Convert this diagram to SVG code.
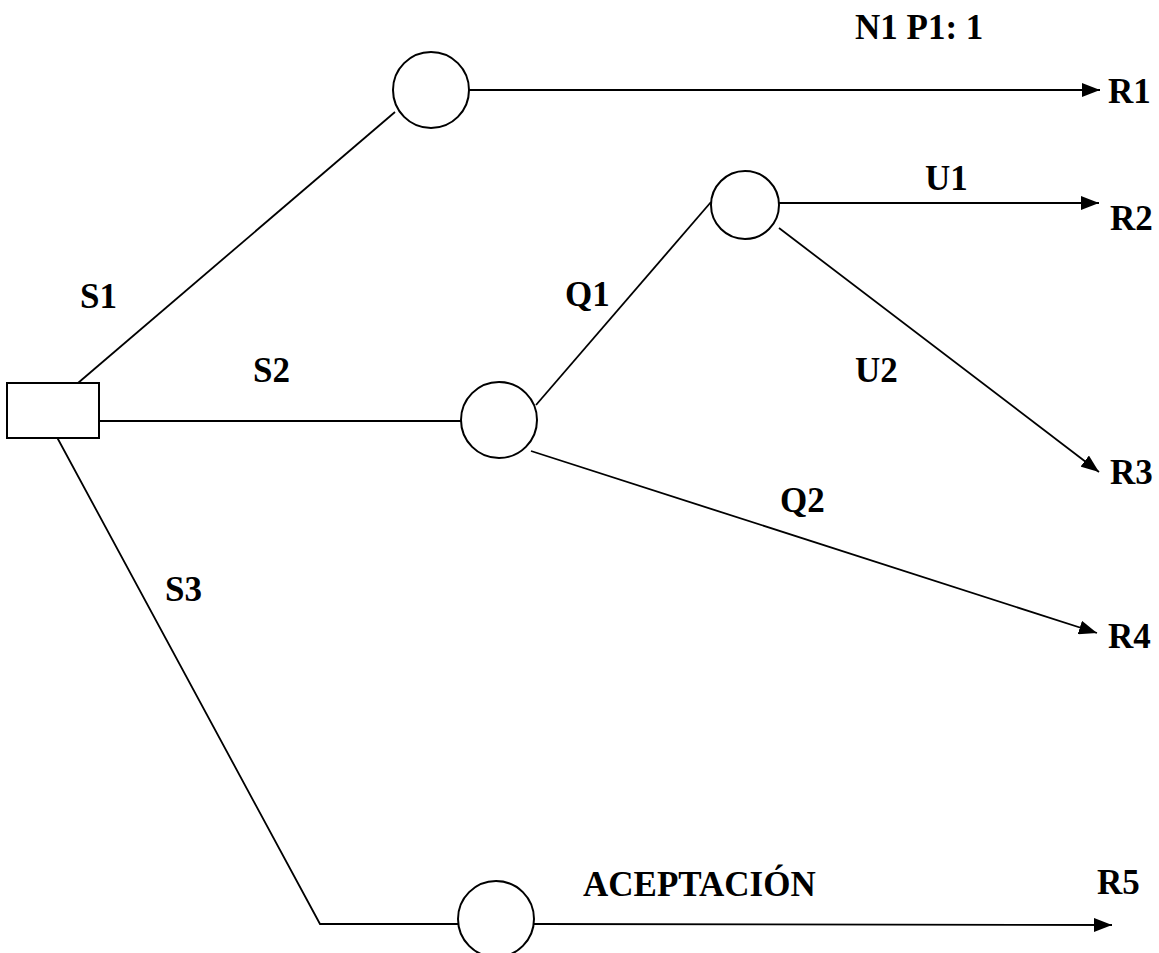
<svg xmlns="http://www.w3.org/2000/svg" width="1159" height="953" viewBox="0 0 1159 953">
  <style>
    .edge { stroke: #000; stroke-width: 1.8; fill: none; }
    .node { stroke: #000; stroke-width: 2; fill: #fff; }
    .lbl { font-family: "Liberation Serif", "Times New Roman", serif; font-weight: bold; font-size: 35px; fill: #000; }
  </style>
  <defs>
    <marker id="arrow" viewBox="0 0 18 14" refX="18" refY="7" markerWidth="18" markerHeight="14" markerUnits="userSpaceOnUse" orient="auto">
      <path d="M0,0 L18,7 L0,14 Z" fill="#000"/>
    </marker>
  </defs>
  <rect width="1159" height="953" fill="#fff"/>

  <g id="connectors">
    <!-- decision S1 -->
    <line class="edge" x1="78" y1="383" x2="395" y2="112"/>
    <line class="edge" x1="469" y1="90" x2="1100" y2="90" marker-end="url(#arrow)"/>
    <!-- decision S2 -->
    <line class="edge" x1="99" y1="421" x2="461" y2="421"/>
    <line class="edge" x1="536" y1="405" x2="711" y2="202"/>
    <line class="edge" x1="779" y1="203" x2="1099" y2="203" marker-end="url(#arrow)"/>
    <line class="edge" x1="779" y1="228" x2="1099" y2="472" marker-end="url(#arrow)"/>
    <line class="edge" x1="531" y1="451" x2="1097" y2="633" marker-end="url(#arrow)"/>
    <!-- decision S3 -->
    <polyline class="edge" points="52,428 320,924 458,924"/>
    <line class="edge" x1="534" y1="924" x2="1112" y2="925" marker-end="url(#arrow)"/>
  </g>

  <g id="decision">
    <rect class="node" x="7" y="383" width="92" height="55"/>
  </g>
  <g id="chance-s1">
    <circle class="node" cx="431" cy="90" r="38"/>
  </g>
  <g id="chance-s2">
    <circle class="node" cx="499" cy="420" r="38"/>
  </g>
  <g id="chance-q1">
    <circle class="node" cx="745" cy="205" r="34"/>
  </g>
  <g id="chance-s3">
    <circle class="node" cx="496" cy="919" r="38"/>
  </g>

  <g id="labels">
    <text class="lbl" x="855" y="39">N1 P1: 1</text>
    <text class="lbl" x="1108" y="103">R1</text>
    <text class="lbl" x="1110" y="230">R2</text>
    <text class="lbl" x="1110" y="484">R3</text>
    <text class="lbl" x="1108" y="648">R4</text>
    <text class="lbl" x="1097" y="894">R5</text>
    <text class="lbl" x="80" y="308">S1</text>
    <text class="lbl" x="253" y="382">S2</text>
    <text class="lbl" x="165" y="601">S3</text>
    <text class="lbl" x="565" y="306">Q1</text>
    <text class="lbl" x="780" y="512">Q2</text>
    <text class="lbl" x="925" y="190">U1</text>
    <text class="lbl" x="855" y="382">U2</text>
    <text class="lbl" x="583" y="896">ACEPTACIÓN</text>
  </g>
</svg>
